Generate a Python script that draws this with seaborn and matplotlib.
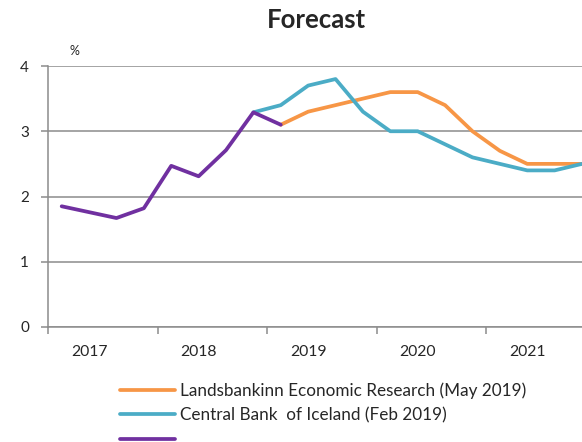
import pandas as pd
import matplotlib
matplotlib.use('Agg')
import matplotlib.pyplot as plt
import seaborn as sns

# Quarterly categories, 2017Q1 .. 2021Q4
quarters = ['2017Q1', '2017Q2', '2017Q3', '2017Q4',
            '2018Q1', '2018Q2', '2018Q3', '2018Q4',
            '2019Q1', '2019Q2', '2019Q3', '2019Q4',
            '2020Q1', '2020Q2', '2020Q3', '2020Q4',
            '2021Q1', '2021Q2', '2021Q3', '2021Q4']
year_labels = ['2017', '2018', '2019', '2020', '2021']

# Series values (%)
history = [1.85, 1.76, 1.67, 1.82, 2.47, 2.31, 2.71, 3.29, 3.10]
history_q = quarters[0:9]
landsbankinn = [3.10, 3.30, 3.40, 3.50, 3.60, 3.60, 3.40, 3.00, 2.70, 2.50, 2.50, 2.50]
landsbankinn_q = quarters[8:20]
central_bank = [3.29, 3.40, 3.70, 3.80, 3.30, 3.00, 3.00, 2.80, 2.60, 2.50, 2.40, 2.40, 2.50]
central_bank_q = quarters[7:20]

ORANGE = '#F79646'
BLUE = '#4BACC6'
PURPLE = '#7030A0'
GRID = '#8C8C8C'


def to_frame(qs, values):
    df = pd.DataFrame({'quarter': qs, 'value': values})
    df['pos'] = [quarters.index(q) for q in df['quarter']]
    return df


def main():
    sns.set_style('white')
    plt.rcParams['font.family'] = ['Lato', 'DejaVu Sans']

    W, H = 582, 442
    fig = plt.figure(figsize=(W / 100, H / 100), dpi=100)
    ax = fig.add_axes([48 / W, 1 - 327 / H, 1 - 48 / W, (327 - 66) / H])

    sns.lineplot(data=to_frame(landsbankinn_q, landsbankinn), x='pos', y='value',
                 color=ORANGE, lw=2.7, ax=ax,
                 label='Landsbankinn Economic Research (May 2019)')
    sns.lineplot(data=to_frame(central_bank_q, central_bank), x='pos', y='value',
                 color=BLUE, lw=2.7, ax=ax,
                 label='Central Bank  of Iceland (Feb 2019)')
    sns.lineplot(data=to_frame(history_q, history), x='pos', y='value',
                 color=PURPLE, lw=2.7, ax=ax, label=' ')

    ax.set_xlim(-0.5, 19.0)
    ax.set_ylim(0, 4)
    ax.set_yticks([0, 1, 2, 3, 4])
    ax.grid(axis='y', color=GRID, lw=1.1)
    ax.grid(axis='x', visible=False)
    for side in ['top', 'right']:
        ax.spines[side].set_visible(False)
    for side in ['left', 'bottom']:
        ax.spines[side].set_color(GRID)
        ax.spines[side].set_linewidth(1.1)

    # year boundaries as ticks, labels in between
    ax.set_xticks([-0.5, 3.5, 7.5, 11.5, 15.5])
    ax.set_xticklabels([])
    ax.set_xticks([1, 5, 9, 13, 17], minor=True)
    ax.set_xticklabels(year_labels, minor=True)
    ax.tick_params(axis='x', which='major', direction='out', length=4.7,
                   width=1.1, color=GRID, bottom=True)
    ax.tick_params(axis='x', which='minor', length=0, pad=13, labelsize=11.3)
    ax.tick_params(axis='y', direction='out', length=4.7, width=1.1,
                   color=GRID, left=True, pad=9, labelsize=11)
    ax.set_xlabel('')
    ax.set_ylabel('')

    handles, labels = ax.get_legend_handles_labels()
    ax.get_legend().remove()
    fig.legend(handles, labels, loc='upper left',
               bbox_to_anchor=(120 / W, 1 - 382 / H), frameon=False,
               fontsize=12.3, handlelength=3.2, handletextpad=0.3,
               labelspacing=0.5, borderpad=0, borderaxespad=0)

    fig.text(316 / W, 1 - 20 / H, 'Forecast', ha='center', va='center',
             fontsize=18.5, fontweight='bold')
    fig.text(74 / W, 1 - 51 / H, '%', ha='center', va='center', fontsize=9)

    fig.savefig('out.png', dpi=100)


if __name__ == "__main__":
    main()
